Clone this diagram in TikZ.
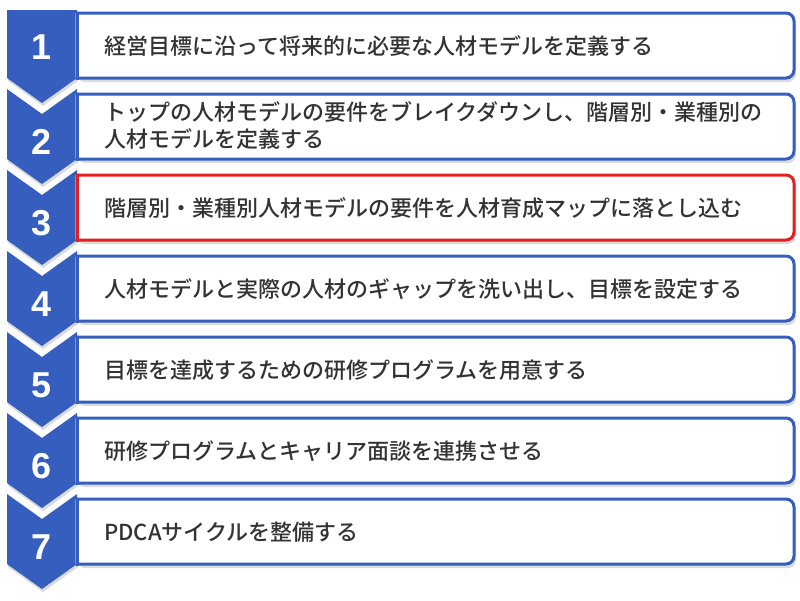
\documentclass[tikz,border=0pt]{standalone}
\usepackage{fontspec}
\newfontfamily\jp{Noto Sans CJK JP}[BoldFont={Noto Sans CJK JP Medium}]
\newfontfamily\numfont{Liberation Sans}
\definecolor{bblue}{RGB}{54,94,190}
\definecolor{rred}{RGB}{226,32,32}
\definecolor{txtc}{RGB}{51,51,51}
\definecolor{shad}{RGB}{218,218,218}
\tikzset{
  numlbl/.style={text=white, inner sep=0pt, font=\numfont\bfseries\fontsize{36}{36}\selectfont},
  txtlbl/.style={text=txtc, inner sep=0pt, anchor=west, align=left, font=\jp\bfseries\fontsize{22}{27}\selectfont},
}
\begin{document}
\begin{tikzpicture}[x=1pt,y=-1pt]
\useasboundingbox (0,0) rectangle (800,600);
\fill[white] (0,0) rectangle (800,600);
% chevron shadows
\foreach \i in {1,...,7}{
  \pgfmathsetmacro\B{78+81*(\i-1)}
  \pgfmathsetmacro\P{\B-81}
  \ifnum\i=1
    \fill[shad] (8,13) -- (78,13) -- (78,\B+3) -- (43,\B+28) -- (8,\B+3) -- cycle;
  \else
    \fill[shad] (8,\P+14) -- (43,\P+39) -- (78,\P+14) -- (78,\B+3) -- (43,\B+28) -- (8,\B+3) -- cycle;
  \fi
}
% chevrons
\foreach \i in {1,...,7}{
  \pgfmathsetmacro\B{78+81*(\i-1)}
  \pgfmathsetmacro\P{\B-81}
  \ifnum\i=1
    \fill[bblue] (7,10) -- (77,10) -- (77,\B) -- (42,\B+25) -- (7,\B) -- cycle;
  \else
    \fill[bblue] (7,\P+11) -- (42,\P+36) -- (77,\P+11) -- (77,\B) -- (42,\B+25) -- (7,\B) -- cycle;
  \fi
}
% boxes
\foreach \i/\c in {1/bblue,2/bblue,3/rred,4/bblue,5/bblue,6/bblue,7/bblue}{
  \pgfmathsetmacro\T{13+81*(\i-1)}
  \pgfmathsetmacro\B{\T+65}
  \fill[shad, rounded corners=8] (77,\T+4) rectangle (796,\B+4);
  \begin{scope}
    \clip (75.5,0) rectangle (800,600);
    \draw[line width=3, draw=\c, fill=white, rounded corners=8] (60,\T) rectangle (794,\B);
  \end{scope}
  \draw[line width=3, draw=\c] (77,\T-1.5) -- (77,\B+1.5);
}
% numbers
\node[numlbl] (n1) at (42,47) {1};
\node[numlbl] (n2) at (42,142) {2};
\node[numlbl] (n3) at (42,223) {3};
\node[numlbl] (n4) at (42,304) {4};
\node[numlbl] (n5) at (42,385) {5};
\node[numlbl] (n6) at (42,466) {6};
\node[numlbl] (n7) at (42,547) {7};
% texts
\node[txtlbl] (t1) at (104,46) {経営目標に沿って将来的に必要な人材モデルを定義する};
\node[txtlbl] (t2) at (104,126) {トップの人材モデルの要件をブレイクダウンし、階層別・業種別の\\人材モデルを定義する};
\node[txtlbl] (t3) at (104,208) {階層別・業種別人材モデルの要件を人材育成マップに落とし込む};
\node[txtlbl] (t4) at (104,289) {人材モデルと実際の人材のギャップを洗い出し、目標を設定する};
\node[txtlbl] (t5) at (104,370) {目標を達成するための研修プログラムを用意する};
\node[txtlbl] (t6) at (104,451) {研修プログラムとキャリア面談を連携させる};
\node[txtlbl] (t7) at (104,532) {PDCAサイクルを整備する};
\end{tikzpicture}
\end{document}
